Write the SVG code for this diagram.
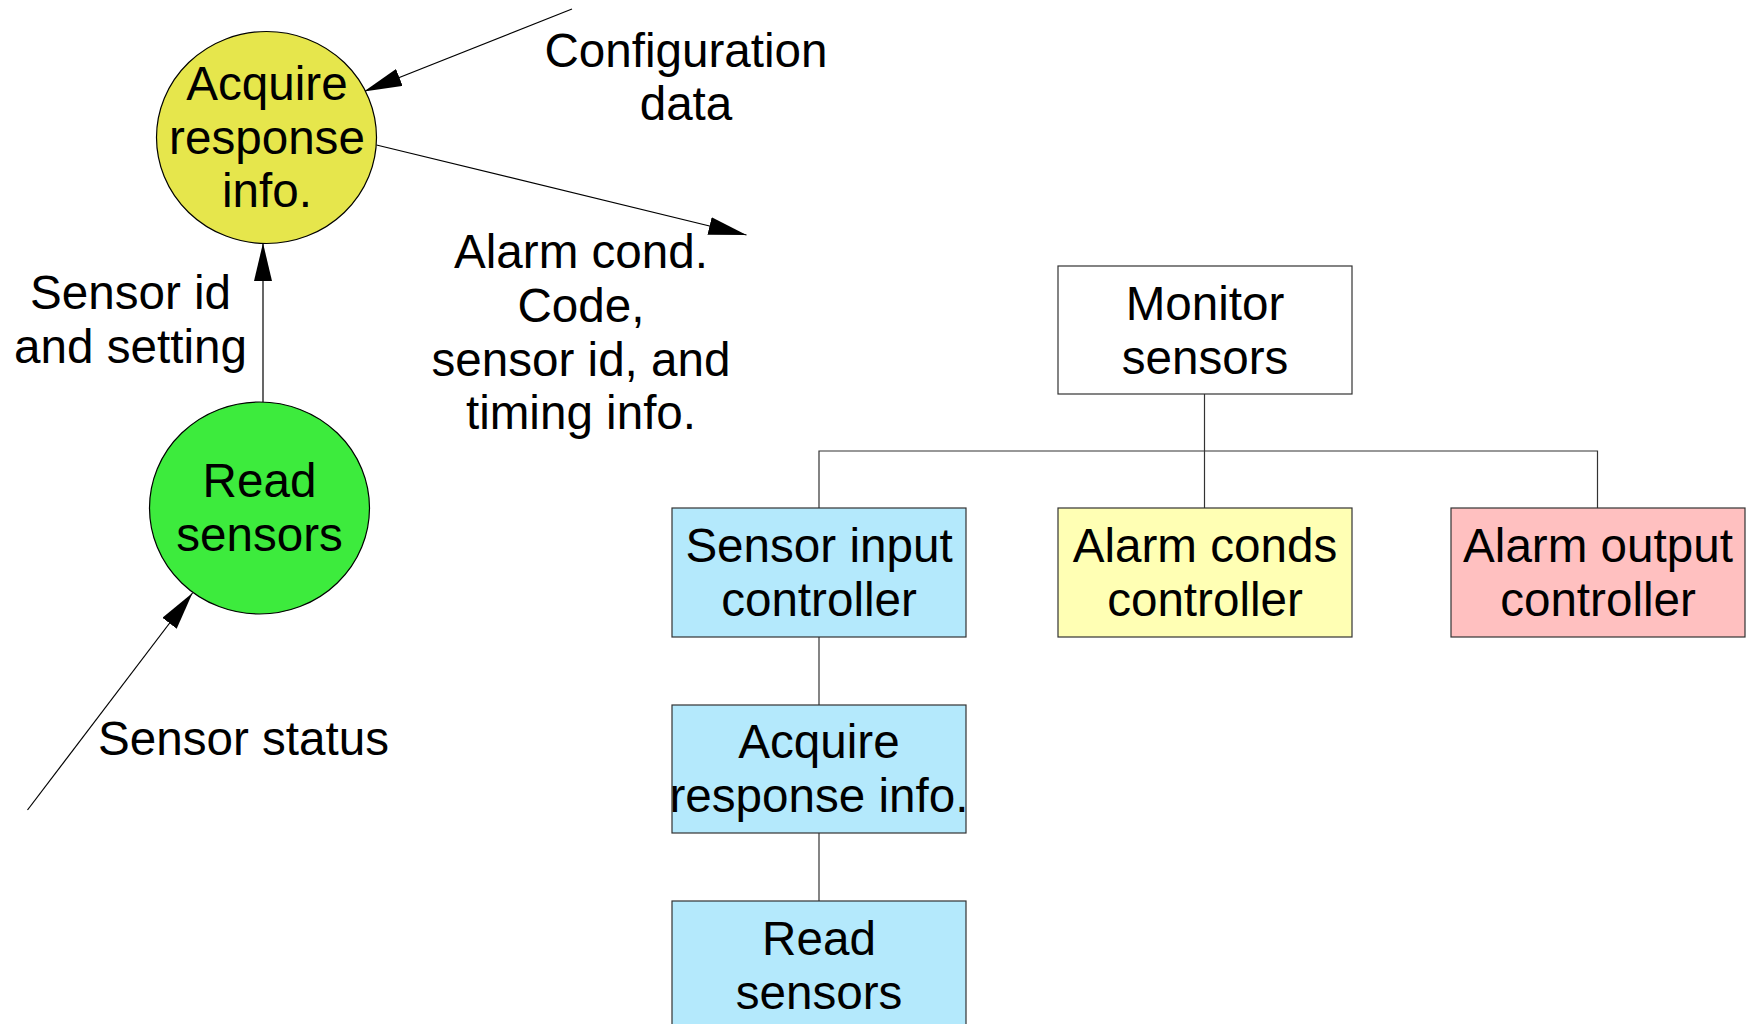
<svg xmlns="http://www.w3.org/2000/svg" width="1750" height="1024" viewBox="0 0 1750 1024">
  <style>
    text { font-family: "Liberation Sans", Arial, sans-serif; font-size: 47.6px; fill: #000; text-anchor: middle; }
    .flow { stroke: #000; stroke-width: 1.2; fill: none; }
    .tree { stroke: #333; stroke-width: 1.2; fill: none; }
    .box { stroke: #333; stroke-width: 1.2; }
    .bubble { stroke: #000; stroke-width: 1.2; }
  </style>
  <defs>
    <marker id="arrow" markerUnits="userSpaceOnUse" markerWidth="38" markerHeight="18" refX="38" refY="9" orient="auto" viewBox="0 0 38 18">
      <path d="M0,0 L38,9 L0,18 z" fill="#000"/>
    </marker>
  </defs>
  <rect width="1750" height="1024" fill="#fff"/>

  <!-- data flow and structure connectors -->
  <g id="connectors">
    <line class="flow" x1="572" y1="9" x2="364" y2="91.5" marker-end="url(#arrow)"/>
    <line class="flow" x1="376.5" y1="145" x2="746.5" y2="235" marker-end="url(#arrow)"/>
    <line class="flow" x1="263" y1="402" x2="263" y2="243" marker-end="url(#arrow)"/>
    <line class="flow" x1="27.5" y1="810" x2="192.5" y2="593" marker-end="url(#arrow)"/>
    <polyline class="tree" points="1204.5,394 1204.5,451"/>
    <polyline class="tree" points="819,508 819,451 1597.5,451 1597.5,508"/>
    <line class="tree" x1="1204.5" y1="451" x2="1204.5" y2="508"/>
    <line class="tree" x1="819" y1="637" x2="819" y2="705"/>
    <line class="tree" x1="819" y1="833" x2="819" y2="901"/>
  </g>

  <!-- flow labels -->
  <g id="labels">
    <text x="686" y="67">Configuration</text>
    <text x="686" y="120">data</text>
    <text x="130.5" y="309">Sensor id</text>
    <text x="130.5" y="363">and setting</text>
    <text x="581" y="268">Alarm cond.</text>
    <text x="581" y="322">Code,</text>
    <text x="581" y="376">sensor id, and</text>
    <text x="581" y="429">timing info.</text>
    <text x="98" y="755" style="text-anchor:start">Sensor status</text>
  </g>

  <g id="bubble-acquire">
    <ellipse class="bubble" cx="266.5" cy="137.5" rx="110" ry="106" fill="#e6e64c"/>
    <text x="267" y="100">Acquire</text>
    <text x="267" y="153.5">response</text>
    <text x="267" y="207">info.</text>
  </g>

  <g id="bubble-read">
    <ellipse class="bubble" cx="259.5" cy="508" rx="110" ry="106" fill="#3deb3d"/>
    <text x="259.5" y="497">Read</text>
    <text x="259.5" y="551">sensors</text>
  </g>

  <g id="node-monitor">
    <rect class="box" x="1058" y="266" width="294" height="128" fill="#fff"/>
    <text x="1205" y="319.5">Monitor</text>
    <text x="1205" y="373.5">sensors</text>
  </g>

  <g id="node-sensor-input">
    <rect class="box" x="672" y="508" width="294" height="129" fill="#b4e9fc"/>
    <text x="819" y="562">Sensor input</text>
    <text x="819" y="615.5">controller</text>
  </g>

  <g id="node-alarm-conds">
    <rect class="box" x="1058" y="508" width="294" height="129" fill="#ffffb4"/>
    <text x="1205" y="562">Alarm conds</text>
    <text x="1205" y="615.5">controller</text>
  </g>

  <g id="node-alarm-output">
    <rect class="box" x="1451" y="508" width="294" height="129" fill="#ffc0c0"/>
    <text x="1598" y="562">Alarm output</text>
    <text x="1598" y="615.5">controller</text>
  </g>

  <g id="node-acquire">
    <rect class="box" x="672" y="705" width="294" height="128" fill="#b4e9fc"/>
    <text x="819" y="758">Acquire</text>
    <text x="819" y="812">response info.</text>
  </g>

  <g id="node-read">
    <rect class="box" x="672" y="901" width="294" height="140" fill="#b4e9fc"/>
    <text x="819" y="955">Read</text>
    <text x="819" y="1008.5">sensors</text>
  </g>
</svg>
